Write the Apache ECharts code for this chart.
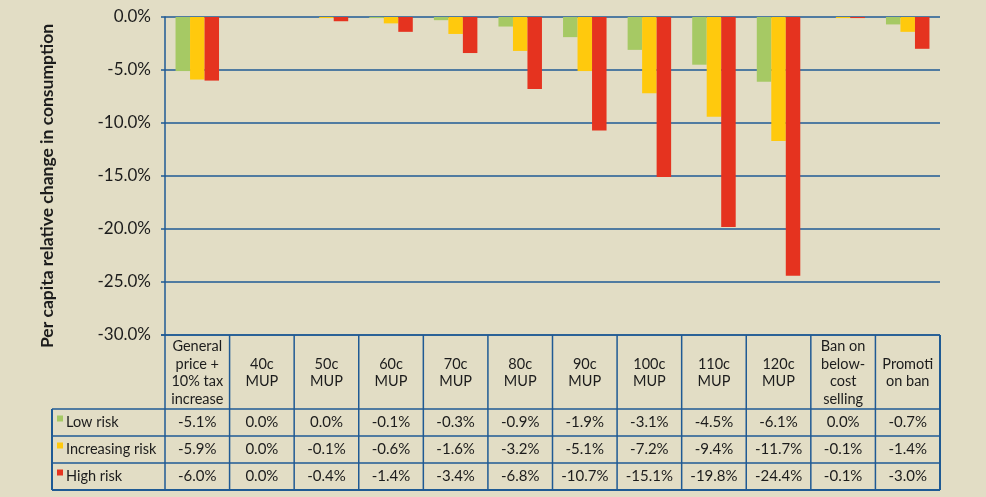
<!DOCTYPE html>
<html>
<head>
<meta charset="utf-8">
<script src="https://cdn.jsdelivr.net/npm/echarts@6/dist/echarts.min.js"></script>
<style>
  html, body { margin: 0; padding: 0; background: #e2ddc5; }
  #chart { width: 986px; height: 497px; }
</style>
</head>
<body>
<div id="chart"></div>
<script>
const categories = [
  'General\nprice +\n10% tax\nincrease', '40c\nMUP', '50c\nMUP', '60c\nMUP', '70c\nMUP', '80c\nMUP',
  '90c\nMUP', '100c\nMUP', '110c\nMUP', '120c\nMUP', 'Ban on\nbelow-\ncost\nselling', 'Promoti\non ban'
]
const lowRisk = [-5.1, 0.0, 0.0, -0.1, -0.3, -0.9, -1.9, -3.1, -4.5, -6.1, 0.0, -0.7]
const increasingRisk = [-5.9, 0.0, -0.1, -0.6, -1.6, -3.2, -5.1, -7.2, -9.4, -11.7, -0.1, -1.4]
const highRisk = [-6.0, 0.0, -0.4, -1.4, -3.4, -6.8, -10.7, -15.1, -19.8, -24.4, -0.1, -3.0]
const seriesNames = ['Low risk', 'Increasing risk', 'High risk']
const seriesColors = ['#a6c964', '#ffc90d', '#e5331f']
const yLabel = 'Per capita relative change in consumption'

const FONT = 'Lato, "Noto Sans", sans-serif'
const BLUE = '#1f5a94'
const TEXT = '#1c1c1c'

const chart = echarts.init(document.getElementById('chart'))

const allSeries = [lowRisk, increasingRisk, highRisk]

chart.setOption({
  backgroundColor: '#e2ddc5',
  animation: false,
  grid: { left: 165, right: 46, top: 17, bottom: 162, containLabel: false },
  xAxis: {
    type: 'category',
    data: categories,
    position: 'top',
    axisLine: { show: false },
    axisTick: { show: false },
    axisLabel: { show: false },
    splitLine: { show: false }
  },
  yAxis: {
    type: 'value',
    min: -30,
    max: 0,
    interval: 5,
    axisLine: { show: true, lineStyle: { color: BLUE, width: 1.5 } },
    axisTick: { show: true, length: 4, lineStyle: { color: BLUE, width: 1.5 } },
    axisLabel: {
      color: TEXT, fontFamily: FONT, fontSize: 17, margin: 14,
      formatter: v => v.toFixed(1) + '%'
    },
    splitLine: { lineStyle: { color: BLUE, width: 1.5 } }
  },
  series: allSeries.map((d, i) => ({
    name: seriesNames[i],
    type: 'bar',
    data: d,
    barWidth: 14.5,
    barGap: '0%',
    itemStyle: { color: seriesColors[i] }
  }))
})

// data table below the plot, positioned from the axis scale
function buildTable() {
  const plotBottom = chart.convertToPixel({ yAxisIndex: 0 }, -30)
  const c0 = chart.convertToPixel({ xAxisIndex: 0 }, 0)
  const c1 = chart.convertToPixel({ xAxisIndex: 0 }, 1)
  const band = c1 - c0
  const left = c0 - band / 2
  const right = left + band * categories.length
  const headBottom = 409
  const rowH = 27
  const tableBottom = headBottom + rowH * 3
  const legendLeft = 52
  const lw = 1.5
  const g = []
  const line = (x1, y1, x2, y2, w) => g.push({
    type: 'line', shape: { x1, y1, x2, y2 }, style: { stroke: BLUE, lineWidth: w || lw }, silent: true
  })

  // vertical column lines
  for (let i = 0; i <= categories.length; i++) {
    const x = left + band * i
    line(x, plotBottom, x, tableBottom, i === categories.length ? 2 : lw)
  }
  // horizontal lines
  line(left - 4, plotBottom, right, plotBottom)
  line(legendLeft, headBottom, right, headBottom)
  for (let r = 1; r <= 3; r++) {
    line(legendLeft, headBottom + rowH * r, right, headBottom + rowH * r, r === 3 ? 2 : lw)
  }
  line(legendLeft, headBottom, legendLeft, tableBottom, 2)

  // header labels
  categories.forEach((c, i) => {
    g.push({
      type: 'text', silent: true,
      x: left + band * (i + 0.5), y: (plotBottom + headBottom) / 2 + 1,
      style: {
        text: c, fill: TEXT, font: '14.5px ' + FONT, align: 'center', verticalAlign: 'middle', lineHeight: 17.5
      }
    })
  })

  // legend rows + values
  allSeries.forEach((d, r) => {
    const cy = headBottom + rowH * (r + 0.5)
    g.push({
      type: 'rect', silent: true,
      shape: { x: legendLeft + 5, y: cy - 7, width: 6, height: 6 },
      style: { fill: seriesColors[r] }
    })
    g.push({
      type: 'text', silent: true, x: legendLeft + 14, y: cy,
      style: { text: seriesNames[r], fill: TEXT, font: '14.5px ' + FONT, verticalAlign: 'middle' }
    })
    d.forEach((v, i) => {
      g.push({
        type: 'text', silent: true, x: left + band * (i + 0.5), y: cy,
        style: { text: v.toFixed(1) + '%', fill: TEXT, font: '15px ' + FONT, align: 'center', verticalAlign: 'middle' }
      })
    })
  })

  // y axis title
  g.push({
    type: 'text', silent: true, x: 47, y: 186, rotation: Math.PI / 2,
    style: { text: yLabel, fill: TEXT, font: 'bold 17.5px ' + FONT, align: 'center', verticalAlign: 'middle' }
  })

  chart.setOption({ graphic: g })
}

buildTable()
</script>
</body>
</html>
